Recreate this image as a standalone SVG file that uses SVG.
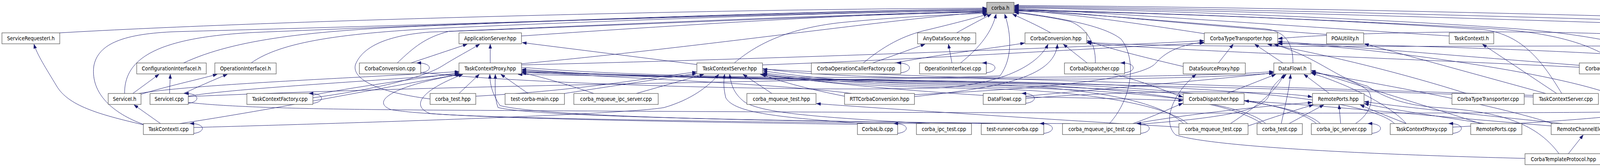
<svg xmlns="http://www.w3.org/2000/svg" width="5472" height="427" viewBox="0 0 5472 427">
<defs>
<marker id="a" markerWidth="11" markerHeight="8" refX="11" refY="4" orient="auto" markerUnits="userSpaceOnUse"><path d="M0,0 L11,4 L0,8 z" fill="#191970" stroke="#191970" stroke-width="0.6"/></marker>
</defs>
<style>
.n rect{fill:#ffffff;stroke:#404040;stroke-width:1.1}
.n.root rect{fill:#bfbfbf}
.n text{font-family:"DejaVu Sans Condensed","Liberation Sans",sans-serif;font-size:13.5px;text-anchor:middle;fill:#000000}
.e path{fill:none;stroke:#191970;stroke-width:1;marker-end:url(#a)}
</style>
<rect x="0" y="0" width="5472" height="427" fill="#ffffff"/>
<g id="edges" class="e">
<path d="M153,84 C700,52 1900,22 2526,21"/>
<path d="M319,239 C318,150 400,96 650,83 C1300,56 2100,27 2526,23"/>
<path d="M470,161 C600,100 800,78 1100,66 C1600,46 2200,27 2526,25"/>
<path d="M643,161 C720,106 880,84 1150,71 C1600,51 2200,30 2526,27"/>
<path d="M1335,92 C1800,60 2250,33 2526,29"/>
<path d="M1335,163 C1800,120 2300,46 2526,31"/>
<path d="M1880,161 C1940,110 2020,73 2150,58 C2300,43 2450,36 2527,34"/>
<path d="M2210,161 C2260,120 2310,90 2380,75 C2450,58 2500,45 2529,36"/>
<path d="M2449,84 C2480,66 2512,50 2538,36"/>
<path d="M2459,161 C2510,120 2540,80 2550,36"/>
<path d="M482,247 C1200,215 2200,207 2560,194 C2592,150 2590,90 2572,36"/>
<path d="M2690,84 C2650,62 2622,50 2592,36"/>
<path d="M3083,86 C2900,58 2720,32 2597,26"/>
<path d="M3396,88 C3000,60 2750,30 2597,24"/>
<path d="M3710,92 C3300,66 2800,30 2597,22"/>
<path d="M3310,161 C3310,110 3290,80 3240,74 C3000,55 2750,32 2597,28"/>
<path d="M4885,87 C4200,58 3200,28 2597,18"/>
<path d="M5093,84 C4500,58 3300,24 2597,16"/>
<path d="M5333,84 C4800,55 3500,20 2597,14"/>
<path d="M4140,161 C4080,115 3980,82 3800,72 C3400,50 2900,30 2597,25"/>
<path d="M3998,239 C3950,160 3900,90 3800,76 C3400,48 2900,31 2597,27"/>
<path d="M4526,239 C4380,160 4150,95 3900,75 C3500,45 2900,25 2597,20"/>
<path d="M2804,161 C2806,110 2780,70 2740,55 C2680,42 2630,36 2597,32"/>
<path d="M2840,316 C2900,250 2910,150 2870,100 C2820,60 2680,42 2597,30"/>
<path d="M367,318 C290,290 232,240 240,170 C250,110 320,86 450,81 C1200,61 2100,31 2526,27"/>
<path d="M1101,253 C960,235 900,200 910,165 C930,115 1000,90 1100,82 C1600,65 2200,36 2526,31"/>
<path d="M1017,161 C1060,120 1090,95 1150,80 C1600,62 2200,34 2526,30"/>
<path d="M367,319 C250,292 175,270 145,220 C118,175 95,140 87,113"/>
<path d="M340,239 L407,190"/>
<path d="M434,239 L436,190"/>
<path d="M361,241 C430,220 500,205 556,190"/>
<path d="M470,239 C500,225 545,205 582,190"/>
<path d="M411,316 L343,268"/>
<path d="M1255,161 L1255,113"/>
<path d="M1784,165 L1337,109"/>
<path d="M1052,161 L1196,113"/>
<path d="M801,250 C950,230 1080,200 1130,170 C1170,145 1200,130 1228,113"/>
<path d="M2234,161 L2368,113"/>
<path d="M2437,161 L2428,113"/>
<path d="M2290,161 C2400,140 2550,122 2623,110"/>
<path d="M2783,161 L2722,113"/>
<path d="M1077,185 C1300,212 2000,235 2400,225 C2580,215 2660,160 2683,113"/>
<path d="M2341,247 C2550,225 2700,200 2707,113"/>
<path d="M2341,242 C2700,225 2930,200 2960,160 C2990,125 3040,112 3082,108"/>
<path d="M3029,170 C2900,140 2820,118 2783,104"/>
<path d="M4043,172 C3600,150 3000,130 2783,110"/>
<path d="M3904,405 C3500,395 3100,375 3010,345 C2980,320 2990,250 3062,190"/>
<path d="M4015,393 L4053,345"/>
<path d="M3991,393 C3930,310 3830,285 3680,275 C3580,268 3530,240 3500,220 C3420,200 3380,150 3262,113"/>
<path d="M4101,398 C4400,385 4650,330 4690,280 C4720,200 4620,120 4300,118 C3800,116 3000,125 2783,108"/>
<path d="M3119,161 L3157,113"/>
<path d="M3284,161 L3212,113"/>
<path d="M3754,239 C3600,190 3400,140 3245,113"/>
<path d="M4043,167 C3700,140 3400,115 3272,106"/>
<path d="M4120,239 C3950,180 3500,120 3272,110"/>
<path d="M4175,325 C4500,310 4700,290 4712,255 C4730,180 4550,110 4300,95 C3900,70 3400,85 3272,99"/>
<path d="M3957,239 L3493,112"/>
<path d="M3985,239 L3795,113"/>
<path d="M4484,239 L4242,190"/>
<path d="M4196,239 L4172,190"/>
<path d="M482,262 C600,275 800,280 1200,282 C2500,290 3800,292 4260,285 C4325,272 4330,232 4233,190"/>
<path d="M3141,239 L3266,190"/>
<path d="M3403,239 L3338,190"/>
<path d="M3150,316 C3220,270 3270,230 3287,190"/>
<path d="M3280,316 C3290,270 3300,230 3304,190"/>
<path d="M2910,318 C3150,300 3240,280 3250,240 C3258,215 3280,200 3293,190"/>
<path d="M2626,246 C2900,220 3150,200 3260,186"/>
<path d="M3470,316 C3510,290 3520,250 3500,230 C3460,200 3400,190 3358,186"/>
<path d="M3975,316 C3800,260 3500,210 3357,184"/>
<path d="M3790,316 C3650,270 3450,210 3357,180"/>
<path d="M3600,316 C3560,270 3450,215 3357,187"/>
<path d="M3300,316 L3389,268"/>
<path d="M3432,316 L3428,268"/>
<path d="M3800,316 C3700,300 3560,280 3493,265"/>
<path d="M3600,316 C3560,300 3520,285 3482,268"/>
<path d="M4000,316 C3800,295 3600,275 3493,260"/>
<path d="M2905,316 C3050,290 3250,270 3359,262"/>
<path d="M2626,252 C2850,232 3250,228 3359,248"/>
<path d="M3195,322 C3260,300 3320,280 3362,268"/>
<path d="M3971,322 C3700,300 3400,270 3186,258"/>
<path d="M2626,248 C2800,250 2950,255 3028,257"/>
<path d="M2900,316 C2960,295 3000,275 3028,264"/>
<path d="M2850,189 C2950,215 3000,240 3028,248"/>
<path d="M3018,325 C2600,300 2300,280 2090,265"/>
<path d="M1629,239 L1802,190"/>
<path d="M1976,239 L1902,190"/>
<path d="M1445,239 C1600,215 1700,200 1783,188"/>
<path d="M1218,246 C1500,230 1650,200 1783,184"/>
<path d="M496,326 C1000,312 1600,292 1700,275 C1770,255 1815,220 1840,190"/>
<path d="M2210,316 C2000,300 1880,290 1858,250 C1852,225 1852,210 1855,190"/>
<path d="M2380,316 C2100,300 1950,290 1905,260 C1880,240 1872,220 1868,190"/>
<path d="M3240,316 C3180,260 2900,228 2500,222 C2200,218 2050,200 1953,186"/>
<path d="M3380,316 C3320,258 3000,225 2500,218 C2200,214 2050,196 1953,181"/>
<path d="M3925,244 C3300,222 2400,200 1953,177"/>
<path d="M3040,316 C2990,272 2800,232 2500,226 C2200,222 2050,205 1946,190"/>
<path d="M801,243 C950,215 1080,200 1175,186"/>
<path d="M1175,239 L1227,190"/>
<path d="M1352,239 L1282,190"/>
<path d="M355,239 C500,215 900,200 1175,183"/>
<path d="M482,246 C600,225 1000,205 1175,189"/>
<path d="M460,316 C700,280 1000,220 1177,190"/>
<path d="M2200,318 C1600,310 1100,300 1000,280 C950,260 1000,220 1180,190"/>
<path d="M2360,316 C1700,310 1200,300 1100,290 C1050,270 1080,230 1185,190"/>
<path d="M2740,316 C2000,312 1400,300 1280,270 C1260,240 1254,215 1254,190"/>
<path d="M2540,316 C2000,308 1380,300 1275,275 C1265,250 1268,215 1268,190"/>
<path d="M3030,316 C2980,270 2850,225 2500,215 C2000,205 1600,195 1336,180"/>
<path d="M3230,316 C3150,260 2900,222 2500,212 C2000,202 1600,192 1336,183"/>
<path d="M3370,316 C3300,255 3000,220 2500,210 C2000,200 1600,192 1336,186"/>
<path d="M3570,316 C3500,250 3100,218 2500,208 C2000,200 1500,194 1326,190"/>
<path d="M3925,248 C3300,225 2400,206 1900,200 C1600,196 1450,186 1336,177"/>
<path d="M1520,239 C1450,215 1380,195 1336,186"/>
<path d="M2517,244 C2300,230 2100,212 1953,189"/>
<path d="M2162,246 C2080,230 2000,210 1950,190"/>
<path d="M2180,239 C2000,215 1600,200 1336,183"/>
<path d="M1335,172 C1600,195 2000,200 2500,198 C2900,197 3150,192 3260,183"/>
<path d="M1952,175 C2100,200 2500,203 2800,202 C3050,200 3200,192 3260,187"/>
<path d="M1335,166 C2000,150 2800,120 3082,104"/>
<path d="M1952,166 C2400,150 2850,120 3082,110"/>
<path d="M3719,325 C4000,310 4330,290 4345,250 C4360,200 4300,150 4150,140 C3800,120 3400,112 3272,112"/>
</g>
<g id="node-corba-h" class="n root"><rect x="2526" y="6" width="70" height="28"/><text x="2561" y="24.8">corba.h</text></g>
<g id="node-ServiceRequesterI-h" class="n"><rect x="5" y="84" width="148" height="28"/><text x="79" y="102.8">ServiceRequesterI.h</text></g>
<g id="node-ApplicationServer-hpp" class="n"><rect x="1175" y="84" width="160" height="28"/><text x="1255" y="102.8">ApplicationServer.hpp</text></g>
<g id="node-AnyDataSource-hpp" class="n"><rect x="2349" y="84" width="149" height="28"/><text x="2423.5" y="102.8">AnyDataSource.hpp</text></g>
<g id="node-CorbaConversion-hpp" class="n"><rect x="2624" y="84" width="158" height="28"/><text x="2703" y="102.8">CorbaConversion.hpp</text></g>
<g id="node-CorbaTypeTransporter-hpp" class="n"><rect x="3083" y="84" width="188" height="28"/><text x="3177" y="102.8">CorbaTypeTransporter.hpp</text></g>
<g id="node-POAUtility-h" class="n"><rect x="3396" y="84" width="95" height="28"/><text x="3443.5" y="102.8">POAUtility.h</text></g>
<g id="node-TaskContextI-h" class="n"><rect x="3710" y="84" width="114" height="28"/><text x="3767" y="102.8">TaskContextI.h</text></g>
<g id="node-ApplicationServer-cpp" class="n"><rect x="4885" y="84" width="160" height="28"/><text x="4965" y="102.8">ApplicationServer.cpp</text></g>
<g id="node-ConfigurationInterfaceI-cpp" class="n"><rect x="5093" y="84" width="192" height="28"/><text x="5189" y="102.8">ConfigurationInterfaceI.cpp</text></g>
<g id="node-POAUtility-cpp" class="n"><rect x="5333" y="84" width="110" height="28"/><text x="5388" y="102.8">POAUtility.cpp</text></g>
<g id="node-ConfigurationInterfaceI-h" class="n"><rect x="350" y="161" width="178" height="28"/><text x="439" y="179.8">ConfigurationInterfaceI.h</text></g>
<g id="node-OperationInterfaceI-h" class="n"><rect x="550" y="161" width="157" height="28"/><text x="628.5" y="179.8">OperationInterfaceI.h</text></g>
<g id="node-CorbaConversion-cpp" class="n"><rect x="920" y="161" width="157" height="28"/><text x="998.5" y="179.8">CorbaConversion.cpp</text></g>
<g id="node-TaskContextProxy-hpp" class="n"><rect x="1175" y="161" width="160" height="28"/><text x="1255" y="179.8">TaskContextProxy.hpp</text></g>
<g id="node-TaskContextServer-hpp" class="n"><rect x="1784" y="161" width="168" height="28"/><text x="1868" y="179.8">TaskContextServer.hpp</text></g>
<g id="node-CorbaOperationCallerFactory-cpp" class="n"><rect x="2077" y="161" width="229" height="28"/><text x="2191.5" y="179.8">CorbaOperationCallerFactory.cpp</text></g>
<g id="node-OperationInterfaceI-cpp" class="n"><rect x="2354" y="161" width="171" height="28"/><text x="2439.5" y="179.8">OperationInterfaceI.cpp</text></g>
<g id="node-CorbaDispatcher-cpp" class="n"><rect x="2725" y="161" width="154" height="28"/><text x="2802" y="179.8">CorbaDispatcher.cpp</text></g>
<g id="node-DataSourceProxy-hpp" class="n"><rect x="3029" y="161" width="159" height="28"/><text x="3108.5" y="179.8">DataSourceProxy.hpp</text></g>
<g id="node-DataFlowI-h" class="n"><rect x="3261" y="161" width="95" height="28"/><text x="3308.5" y="179.8">DataFlowI.h</text></g>
<g id="node-CorbaOperationCallerFactory-hpp" class="n"><rect x="4043" y="161" width="232" height="28"/><text x="4159" y="179.8">CorbaOperationCallerFactory.hpp</text></g>
<g id="node-ServiceI-h" class="n"><rect x="277" y="239" width="84" height="28"/><text x="319" y="257.8">ServiceI.h</text></g>
<g id="node-ServiceI-cpp" class="n"><rect x="384" y="239" width="98" height="28"/><text x="433" y="257.8">ServiceI.cpp</text></g>
<g id="node-TaskContextFactory-cpp" class="n"><rect x="632" y="239" width="169" height="28"/><text x="716.5" y="257.8">TaskContextFactory.cpp</text></g>
<g id="node-corba_test-hpp" class="n"><rect x="1101" y="239" width="117" height="28"/><text x="1159.5" y="257.8">corba_test.hpp</text></g>
<g id="node-test-corba-main-cpp" class="n"><rect x="1293" y="239" width="152" height="28"/><text x="1369" y="257.8">test-corba-main.cpp</text></g>
<g id="node-corba_mqueue_ipc_server-cpp" class="n"><rect x="1469" y="239" width="216" height="28"/><text x="1577" y="257.8">corba_mqueue_ipc_server.cpp</text></g>
<g id="node-corba_mqueue_test-hpp" class="n"><rect x="1912" y="239" width="177" height="28"/><text x="2000.5" y="257.8">corba_mqueue_test.hpp</text></g>
<g id="node-RTTCorbaConversion-hpp" class="n"><rect x="2162" y="239" width="179" height="28"/><text x="2251.5" y="257.8">RTTCorbaConversion.hpp</text></g>
<g id="node-DataFlowI-cpp" class="n"><rect x="2517" y="239" width="109" height="28"/><text x="2571.5" y="257.8">DataFlowI.cpp</text></g>
<g id="node-CorbaDispatcher-hpp" class="n"><rect x="3029" y="239" width="156" height="28"/><text x="3107" y="257.8">CorbaDispatcher.hpp</text></g>
<g id="node-RemotePorts-hpp" class="n"><rect x="3360" y="239" width="132" height="28"/><text x="3426" y="257.8">RemotePorts.hpp</text></g>
<g id="node-CorbaTypeTransporter-cpp" class="n"><rect x="3717" y="239" width="185" height="28"/><text x="3809.5" y="257.8">CorbaTypeTransporter.cpp</text></g>
<g id="node-TaskContextServer-cpp" class="n"><rect x="3925" y="239" width="167" height="28"/><text x="4008.5" y="257.8">TaskContextServer.cpp</text></g>
<g id="node-OperationCallerProxy-hpp" class="n"><rect x="4114" y="239" width="182" height="28"/><text x="4205" y="257.8">OperationCallerProxy.hpp</text></g>
<g id="node-ServiceRequesterI-cpp" class="n"><rect x="4472" y="239" width="162" height="28"/><text x="4553" y="257.8">ServiceRequesterI.cpp</text></g>
<g id="node-TaskContextI-cpp" class="n"><rect x="367" y="316" width="129" height="28"/><text x="431.5" y="334.8">TaskContextI.cpp</text></g>
<g id="node-CorbaLib-cpp" class="n"><rect x="2195" y="316" width="103" height="28"/><text x="2246.5" y="334.8">CorbaLib.cpp</text></g>
<g id="node-corba_ipc_test-cpp" class="n"><rect x="2346" y="316" width="141" height="28"/><text x="2416.5" y="334.8">corba_ipc_test.cpp</text></g>
<g id="node-test-runner-corba-cpp" class="n"><rect x="2512" y="316" width="160" height="28"/><text x="2592" y="334.8">test-runner-corba.cpp</text></g>
<g id="node-corba_mqueue_ipc_test-cpp" class="n"><rect x="2720" y="316" width="200" height="28"/><text x="2820" y="334.8">corba_mqueue_ipc_test.cpp</text></g>
<g id="node-corba_mqueue_test-cpp" class="n"><rect x="3018" y="316" width="177" height="28"/><text x="3106.5" y="334.8">corba_mqueue_test.cpp</text></g>
<g id="node-corba_test-cpp" class="n"><rect x="3218" y="316" width="116" height="28"/><text x="3276" y="334.8">corba_test.cpp</text></g>
<g id="node-corba_ipc_server-cpp" class="n"><rect x="3357" y="316" width="155" height="28"/><text x="3434.5" y="334.8">corba_ipc_server.cpp</text></g>
<g id="node-TaskContextProxy-cpp" class="n"><rect x="3559" y="316" width="160" height="28"/><text x="3639" y="334.8">TaskContextProxy.cpp</text></g>
<g id="node-RemotePorts-cpp" class="n"><rect x="3765" y="316" width="131" height="28"/><text x="3830.5" y="334.8">RemotePorts.cpp</text></g>
<g id="node-RemoteChannelElement-hpp" class="n"><rect x="3971" y="316" width="204" height="28"/><text x="4073" y="334.8">RemoteChannelElement.hpp</text></g>
<g id="node-CorbaTemplateProtocol-hpp" class="n"><rect x="3904" y="393" width="197" height="28"/><text x="4002.5" y="411.8">CorbaTemplateProtocol.hpp</text></g>
<g id="self-loops" class="e">
<path d="M482,264 C513,261 513,238 472,239"/>
<path d="M801,264 C832,261 832,238 791,239"/>
<path d="M496,341 C527,338 527,315 486,316"/>
<path d="M1077,186 C1108,183 1108,160 1067,161"/>
<path d="M2306,186 C2337,183 2337,160 2296,161"/>
<path d="M2525,186 C2556,183 2556,160 2515,161"/>
<path d="M2879,186 C2910,183 2910,160 2869,161"/>
<path d="M2626,264 C2657,261 2657,238 2616,239"/>
<path d="M2298,341 C2329,338 2329,315 2288,316"/>
<path d="M2672,341 C2703,338 2703,315 2662,316"/>
<path d="M2920,341 C2951,338 2951,315 2910,316"/>
<path d="M3512,341 C3543,338 3543,315 3502,316"/>
<path d="M3719,341 C3750,338 3750,315 3709,316"/>
<path d="M4634,264 C4665,261 4665,238 4624,239"/>
<path d="M5045,109 C5076,106 5076,83 5035,84"/>
<path d="M5285,109 C5316,106 5316,83 5275,84"/>
<path d="M5443,109 C5469,106 5469,83 5433,84"/>
</g>
</svg>
